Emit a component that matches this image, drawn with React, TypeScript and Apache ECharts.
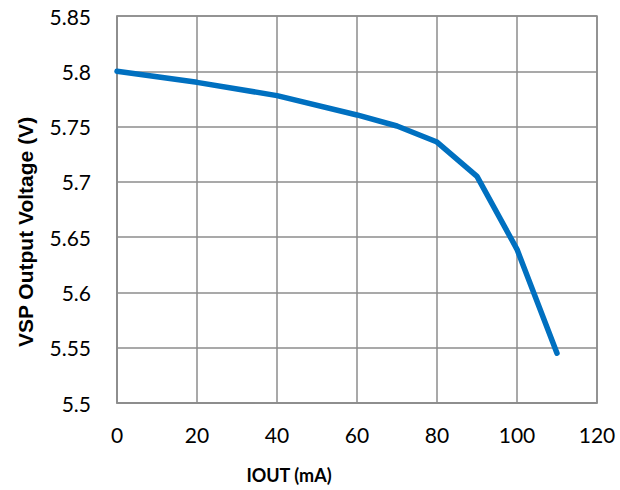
import React, { useEffect, useRef } from "react";
import * as echarts from "echarts";

const iout = [0, 20, 40, 60, 70, 80, 90, 100, 110];
const vsp = [5.8, 5.79, 5.778, 5.7605, 5.7505, 5.736, 5.705, 5.639, 5.545];
const xTitle = "IOUT (mA)";
const yTitle = "VSP Output Voltage (V)";

export default function App() {
  const ref = useRef<HTMLDivElement>(null);
  useEffect(() => {
    if (!ref.current) return;
    const chart = echarts.init(ref.current, null, { renderer: "svg" });
    const gridColor = "#8c8c8c";
    chart.setOption({
      animation: false,
      backgroundColor: "#ffffff",
      grid: {
        left: 117,
        top: 16,
        right: 23,
        bottom: 87,
        show: true,
        borderColor: gridColor,
        borderWidth: 1.5,
      },
      graphic: [
        {
          type: "text",
          x: 289,
          y: 475,
          style: {
            text: xTitle,
            fontFamily: "Lato",
            fontWeight: "bold",
            fontSize: 18,
            fill: "#000",
            textAlign: "center",
            textVerticalAlign: "middle",
          },
        },
        {
          type: "text",
          x: 25,
          y: 232,
          rotation: Math.PI / 2,
          style: {
            text: yTitle,
            fontFamily: "Liberation Sans",
            fontWeight: "bold",
            fontSize: 21,
            fill: "#000",
            textAlign: "center",
            textVerticalAlign: "middle",
          },
        },
      ],
      xAxis: {
        type: "value",
        min: 0,
        max: 120,
        interval: 20,
        axisLine: { show: true, lineStyle: { color: gridColor, width: 1.5 } },
        axisTick: { show: false },
        axisLabel: {
          margin: 21,
          fontFamily: "Lato",
          fontSize: 21,
          color: "#000",
        },
        splitLine: { show: true, lineStyle: { color: gridColor, width: 1.5 } },
      },
      yAxis: {
        type: "value",
        min: 5.5,
        max: 5.85,
        interval: 0.05,
        axisLine: { show: true, lineStyle: { color: gridColor, width: 1.5 } },
        axisTick: { show: false },
        axisLabel: {
          margin: 26,
          fontFamily: "Lato",
          fontSize: 21,
          color: "#000",
          formatter: (v: number) => String(parseFloat(v.toFixed(2))),
        },
        splitLine: { show: true, lineStyle: { color: gridColor, width: 1.5 } },
      },
      series: [
        {
          type: "line",
          data: iout.map((x, i) => [x, vsp[i]]),
          showSymbol: false,
          symbol: "none",
          lineStyle: { color: "#0070C0", width: 5.5, cap: "round" },
        },
      ],
    });
    return () => chart.dispose();
  }, []);
  return (
    <div
      ref={ref}
      style={{ position: "fixed", left: 0, top: 0, width: 620, height: 490 }}
    />
  );
}
